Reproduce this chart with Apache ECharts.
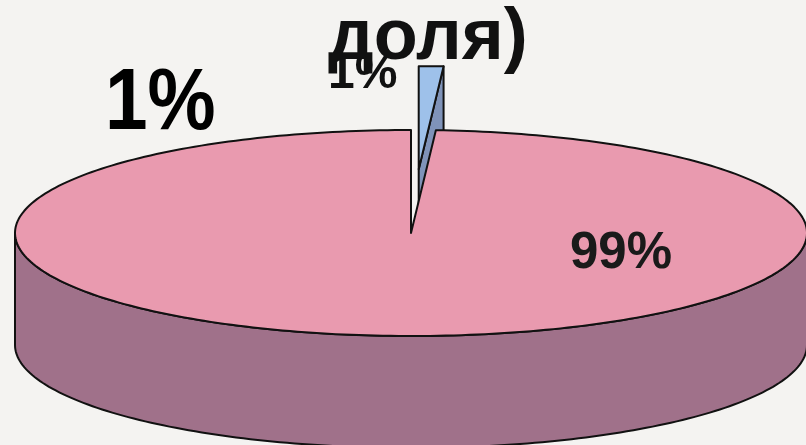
<!DOCTYPE html>
<html>
<head>
<meta charset="utf-8">
<script src="https://cdn.jsdelivr.net/npm/echarts@6/dist/echarts.min.js"></script>
<style>
  html, body { margin: 0; padding: 0; background: #f4f3f1; }
  #chart { width: 806px; height: 445px; }
</style>
</head>
<body>
<div id="chart"></div>
<script>
// Slices, clockwise from 12 o'clock
const sliceNames = ['доля', 'остальное'];
const sliceValues = [1, 99];
const topColors = ['#9ec1ea', '#e99aaf'];
const sideColors = ['#7f93b9', '#a0718a'];
const explodeBy = [0.62, 0];
const titleText = 'доля)';

// Pie geometry (pseudo 3D ellipse)
const cx = 411, cy = 233, rx = 396, ry = 103, depth = 112;

const total = sliceValues.reduce((a, b) => a + b, 0);
const starts = [];
let acc = 0;
sliceValues.forEach(v => { starts.push(acc); acc += v; });

function arcPoints(a0, a1, ox, oy, dy) {
  const pts = [];
  const n = Math.max(2, Math.ceil((a1 - a0) / 0.02));
  for (let k = 0; k <= n; k++) {
    const t = a0 + (a1 - a0) * k / n;
    pts.push([cx + ox + rx * Math.sin(t), cy + oy - ry * Math.cos(t) + dy]);
  }
  return pts;
}

function renderSlice(params, api) {
  const i = params.dataIndex;
  const a0 = starts[i] / total * Math.PI * 2;
  const a1 = (starts[i] + sliceValues[i]) / total * Math.PI * 2;
  const mid = (a0 + a1) / 2;
  const ox = explodeBy[i] * rx * Math.sin(mid);
  const oy = -explodeBy[i] * ry * Math.cos(mid);
  const line = { stroke: '#111', lineWidth: 2, lineJoin: 'round' };
  const children = [];
  const c = [cx + ox, cy + oy];

  // radial cut faces that look toward the viewer
  [[a0, -1], [a1, 1]].forEach(([a, sgn]) => {
    if (sgn * Math.sin(a) > 0.001) {
      const p = [cx + ox + rx * Math.sin(a), cy + oy - ry * Math.cos(a)];
      children.push({
        type: 'polygon',
        shape: { points: [c, p, [p[0], p[1] + depth], [c[0], c[1] + depth]] },
        style: Object.assign({ fill: sideColors[i] }, line)
      });
    }
  });

  // outer wall, front half only
  const s = Math.max(a0, Math.PI / 2), e = Math.min(a1, Math.PI * 1.5);
  if (e > s) {
    const topArc = arcPoints(s, e, ox, oy, 0);
    const botArc = arcPoints(s, e, ox, oy, depth).reverse();
    children.push({
      type: 'polygon',
      shape: { points: topArc.concat(botArc) },
      style: Object.assign({ fill: sideColors[i] }, line)
    });
  }

  // top face
  children.push({
    type: 'polygon',
    shape: { points: [c].concat(arcPoints(a0, a1, ox, oy, 0)) },
    style: Object.assign({ fill: topColors[i] }, line)
  });

  return { type: 'group', children };
}

const chart = echarts.init(document.getElementById('chart'));
const bold = (size) => 'bold ' + size + 'px "Liberation Sans", Arial, sans-serif';

chart.setOption({
  backgroundColor: '#f4f3f1',
  animation: false,
  series: [{
    type: 'custom',
    coordinateSystem: 'none',
    renderItem: renderSlice,
    data: sliceValues.map((v, i) => ({ name: sliceNames[i], value: v }))
  }],
  graphic: [
    { type: 'text', z: 10, style: { text: sliceValues[0] + '%', x: 328, y: 75, font: bold(48), fill: '#111', verticalAlign: 'middle' } },
    { type: 'text', z: 11, style: { text: titleText, x: 328, y: 39, font: bold(72), fill: '#111', verticalAlign: 'middle' } },
    { type: 'text', z: 10, x: 105, y: 105, scaleX: 0.87, style: { text: sliceValues[0] + '%', x: 0, y: 0, font: bold(88), fill: '#000', verticalAlign: 'middle' } },
    { type: 'text', z: 10, style: { text: sliceValues[1] + '%', x: 570, y: 254, font: bold(51), fill: '#1a1a1a', verticalAlign: 'middle' } }
  ]
});
</script>
</body>
</html>
